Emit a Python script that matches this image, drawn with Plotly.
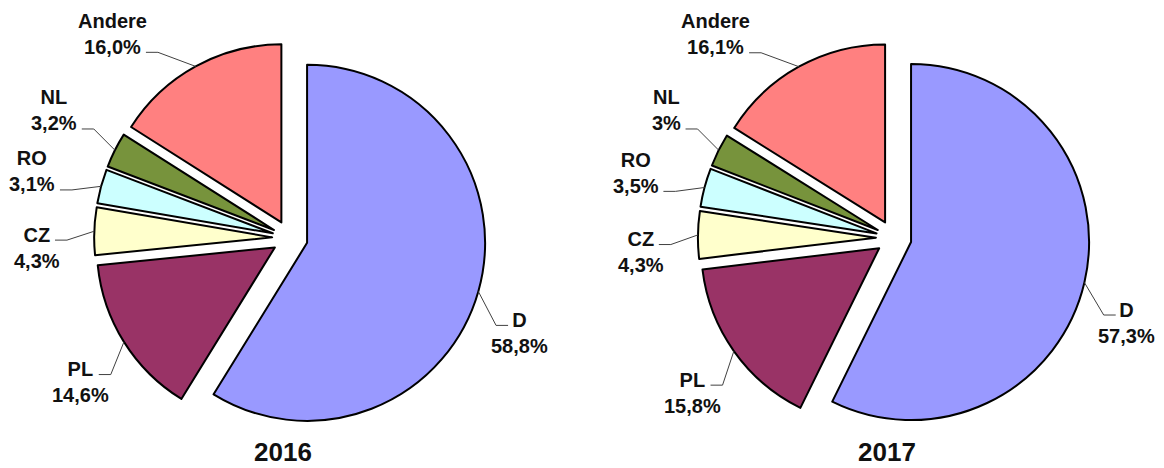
import math
import plotly.graph_objects as go

# ---------------- data ----------------
categories = ["D", "PL", "CZ", "RO", "NL", "Andere"]
years = ["2016", "2017"]
values_2016 = [58.8, 14.6, 4.3, 3.1, 3.2, 16.0]
values_2017 = [57.3, 15.8, 4.3, 3.5, 3.0, 16.1]
pct_labels_2016 = ["58,8%", "14,6%", "4,3%", "3,1%", "3,2%", "16,0%"]
pct_labels_2017 = ["57,3%", "15,8%", "4,3%", "3,5%", "3%", "16,1%"]

# ---------------- style / layout ----------------
colors = ["#9999FF", "#993366", "#FFFFCC", "#CCFFFF", "#77933C", "#FF8080"]
W, H = 1164, 468
PULL = 0.1
DOMAINS = [dict(x=[0.0791, 0.4191], y=[0.0731, 0.9099]),
           dict(x=[0.5978, 0.9378], y=[0.0731, 0.9099])]
FONT = "Liberation Sans, Arial, sans-serif"
LABEL_FS = 20
TITLE_FS = 26
LABEL_R = 1.32          # label attach radius (fraction of pie radius)
ELBOW = 12              # horizontal leader segment (px)
# small angular nudges (deg) mimicking the spreadsheet's best-fit label placement
LABEL_NUDGE = {"D": 6, "PL": -3.5, "CZ": -2.5, "RO": -3.5, "NL": 1, "Andere": -9}
# approximate Arial-Bold advance widths (per 1000 em) for label centring
CW = {"A": 722, "n": 611, "d": 611, "e": 556, "r": 389, "N": 722, "L": 611,
      "R": 722, "O": 778, "C": 722, "Z": 611, "D": 722, "P": 667, ",": 278, "%": 889}

series = [(values_2016, pct_labels_2016), (values_2017, pct_labels_2017)]


def tw(s):
    return sum(CW.get(ch, 556) for ch in s) * LABEL_FS / 1000.0


def px2paper(x, y):
    return x / W, 1 - y / H


fig = go.Figure()
annotations = []
shapes = []

for (vals, pcts), dom, year in zip(series, DOMAINS, years):
    fig.add_trace(go.Pie(
        labels=categories, values=vals, sort=False, direction="clockwise",
        rotation=0, pull=[PULL] * len(vals), domain=dom,
        marker=dict(colors=colors, line=dict(color="#000000", width=2)),
        textinfo="none", hoverinfo="label+percent", showlegend=False,
    ))

    # replicate Plotly's pie geometry to attach labels
    bw = W * (dom["x"][1] - dom["x"][0])
    bh = H * (dom["y"][1] - dom["y"][0])
    r = min(bw / 2, bh / 2) / (1 + PULL)
    cx = W * (dom["x"][0] + dom["x"][1]) / 2
    cy = H * (1 - dom["y"][0]) - bh / 2

    total = sum(vals)
    cum = 0.0
    for cat, v, pct in zip(categories, vals, pcts):
        a0 = cum / total * 360
        cum += v
        a1 = cum / total * 360
        mid = math.radians((a0 + a1) / 2)
        dx, dy = math.sin(mid), -math.cos(mid)
        # point on pulled slice edge
        ex, ey = cx + (1 + PULL) * r * dx, cy + (1 + PULL) * r * dy
        lab = math.radians((a0 + a1) / 2 + LABEL_NUDGE[cat])
        ax, ay = cx + LABEL_R * r * math.sin(lab), cy - LABEL_R * r * math.cos(lab)
        right = math.sin(lab) > 0
        elx = ax - ELBOW if right else ax + ELBOW
        p = [px2paper(ex, ey), px2paper(elx, ay), px2paper(ax, ay)]
        shapes.append(dict(
            type="path", xref="paper", yref="paper",
            path="M {:.5f},{:.5f} L {:.5f},{:.5f} L {:.5f},{:.5f}".format(
                p[0][0], p[0][1], p[1][0], p[1][1], p[2][0], p[2][1]),
            line=dict(color="#404040", width=1),
        ))
        line_h = 1.3 * LABEL_FS
        line_c = ay - 5.5
        upper = dy < -0.1
        att_text = pct if upper else cat
        block_c = line_c - line_h / 2 if upper else line_c + line_h / 2
        if right:
            tx = ax + 4 + tw(att_text) / 2
        else:
            tx = ax - 5 - tw(att_text) / 2
        px_, py_ = px2paper(tx, block_c)
        annotations.append(dict(
            x=px_, y=py_, xref="paper", yref="paper",
            xanchor="center", yanchor="middle",
            text="<b>{}</b><br><b>{}</b>".format(cat, pct), align="center",
            showarrow=False, font=dict(family=FONT, size=LABEL_FS, color="#111111"),
        ))

    tx, _ = px2paper(cx - 7, 0)
    annotations.append(dict(
        x=tx, y=0, xref="paper", yref="paper", xanchor="center", yanchor="bottom",
        text="<b>{}</b>".format(year), showarrow=False, borderpad=0,
        font=dict(family=FONT, size=TITLE_FS, color="#111111"),
    ))

fig.update_layout(
    width=W, height=H, margin=dict(l=0, r=0, t=0, b=0),
    paper_bgcolor="#ffffff", plot_bgcolor="#ffffff",
    annotations=annotations, shapes=shapes,
)

fig.write_html("out.html", config={"displayModeBar": False},
               post_script="document.body.style.margin='0';document.body.style.overflow='hidden';")
